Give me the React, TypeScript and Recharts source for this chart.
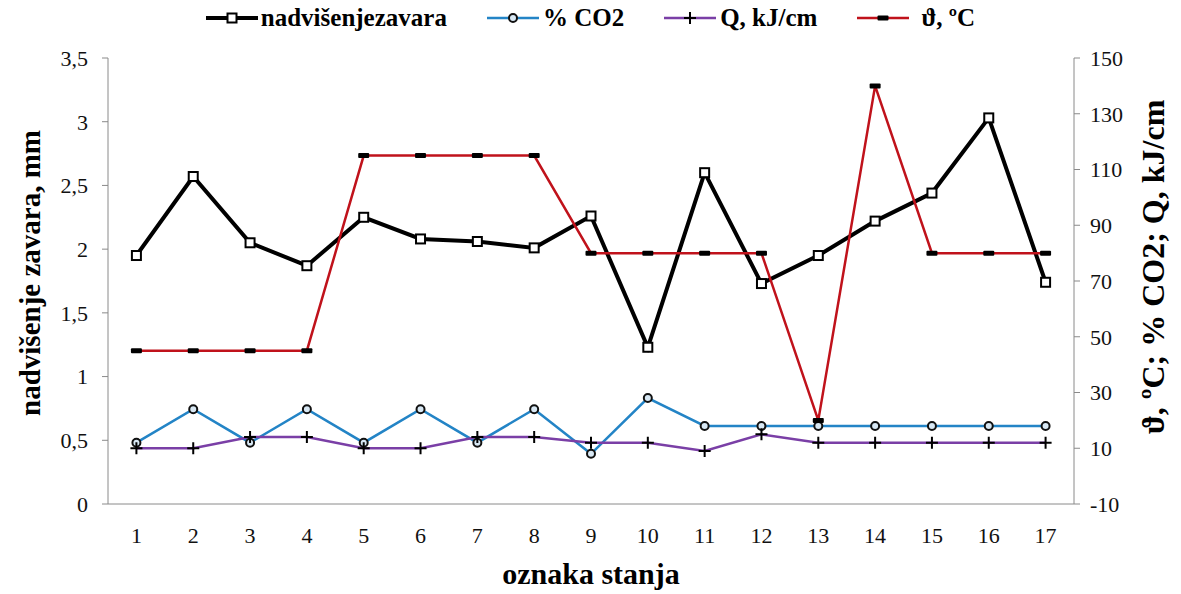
import { LineChart, Line, XAxis, YAxis, Legend, Label } from "recharts"

const stanja = [1, 2, 3, 4, 5, 6, 7, 8, 9, 10, 11, 12, 13, 14, 15, 16, 17]
const nadvisenje = [1.95, 2.57, 2.05, 1.87, 2.25, 2.08, 2.06, 2.01, 2.26, 1.23, 2.6, 1.73, 1.95, 2.22, 2.44, 3.03, 1.74]
const co2 = [12, 24, 12, 24, 12, 24, 12, 24, 8, 28, 18, 18, 18, 18, 18, 18, 18]
const toplina = [10, 10, 14, 14, 10, 10, 14, 14, 12, 12, 9, 15, 12, 12, 12, 12, 12]
const temperatura = [45, 45, 45, 45, 115, 115, 115, 115, 80, 80, 80, 80, 20, 140, 80, 80, 80]
const leftTicks = [0, 0.5, 1, 1.5, 2, 2.5, 3, 3.5]
const rightTicks = [-10, 10, 30, 50, 70, 90, 110, 130, 150]

const data = stanja.map((s, i) => ({
    stanje: s,
    nadvisenje: nadvisenje[i],
    co2: co2[i],
    q: toplina[i],
    temp: temperatura[i],
}))
// tick marks sit between categories, like in Excel
const granice = [...stanja.map((s) => s - 0.5), stanja[stanja.length - 1] + 0.5]

const serif = "Liberation Serif, Tinos, Times New Roman, DejaVu Serif, serif"
const gray = "#8a8a8a"
const tickStyle = { fontSize: 22, fill: "#111", fontFamily: serif }
const titleStyle = { fontWeight: 700, fill: "#000", fontFamily: serif }

const BLUE = "#2384c6"
const PURPLE = "#7a3fa6"
const RED = "#c0121b"

function Square({ cx, cy }: any) {
    return <rect x={cx - 4.5} y={cy - 4.5} width={9} height={9} fill="#fff" stroke="#000" strokeWidth={2} />
}
function Circle({ cx, cy }: any) {
    return <circle cx={cx} cy={cy} r={4} fill="#d8e8f4" stroke="#111" strokeWidth={2} />
}
function Cross({ cx, cy }: any) {
    return <path d={`M${cx - 6},${cy}H${cx + 6}M${cx},${cy - 6}V${cy + 6}`} stroke="#000" strokeWidth={2} />
}
function Dash({ cx, cy }: any) {
    return <rect x={cx - 5.5} y={cy - 2.5} width={11} height={5} rx={1} fill="#000" />
}

const legendItems = [
    { name: "nadvišenjezavara", color: "#000", width: 4, Marker: Square, pad: 3 },
    { name: "% CO2", color: BLUE, width: 2.5, Marker: Circle, pad: 4 },
    { name: "Q, kJ/cm", color: PURPLE, width: 2.5, Marker: Cross, pad: 4 },
    { name: "ϑ, ºC", color: RED, width: 2.5, Marker: Dash, pad: 12 },
]

function ChartLegend() {
    return (
        <div style={{ display: "flex", justifyContent: "center", gap: 40, width: 1181, fontFamily: serif, fontWeight: 700, fontSize: 25 }}>
            {legendItems.map(({ name, color, width, Marker, pad }) => (
                <div key={name} style={{ display: "flex", alignItems: "center" }}>
                    <svg width={52} height={20} style={{ marginRight: pad }}>
                        <line x1={0} y1={10} x2={52} y2={10} stroke={color} strokeWidth={width} />
                        <Marker cx={26} cy={10} />
                    </svg>
                    <span>{name}</span>
                </div>
            ))}
        </div>
    )
}

export default function App() {
    return (
        <div style={{ position: "absolute", left: 0, top: 0, background: "#fff", fontFamily: serif }}>
            <LineChart width={1181} height={594} data={data} margin={{ top: 58, right: 0, bottom: 0, left: 0 }}>
                <XAxis
                    xAxisId="edges"
                    type="number"
                    dataKey="stanje"
                    domain={[0.5, 17.5]}
                    ticks={granice}
                    tick={false}
                    tickLine={{ stroke: gray }}
                    tickSize={6}
                    axisLine={false}
                    height={0}
                />
                <XAxis
                    xAxisId="main"
                    type="number"
                    dataKey="stanje"
                    domain={[0.5, 17.5]}
                    ticks={stanja}
                    interval={0}
                    tick={tickStyle}
                    tickLine={false}
                    tickSize={6}
                    tickMargin={17}
                    axisLine={{ stroke: gray }}
                    height={90}
                >
                    <Label value="oznaka stanja" position="insideBottom" offset={10} style={{ ...titleStyle, fontSize: 30 }} />
                </XAxis>
                <YAxis
                    yAxisId="left"
                    width={108}
                    domain={[0, 3.5]}
                    ticks={leftTicks}
                    interval={0}
                    tickFormatter={(v) => String(v).replace(".", ",")}
                    tick={tickStyle}
                    tickLine={{ stroke: gray }}
                    tickSize={6}
                    tickMargin={14}
                    axisLine={{ stroke: gray }}
                >
                    <Label
                        content={() => (
                            <text x={40} y={273} transform="rotate(-90 40 273)" textAnchor="middle" style={{ ...titleStyle, fontSize: 29 }}>
                                nadvišenje zavara, mm
                            </text>
                        )}
                    />
                </YAxis>
                <YAxis
                    yAxisId="right"
                    orientation="right"
                    width={107}
                    domain={[-10, 150]}
                    ticks={rightTicks}
                    interval={0}
                    tick={{ ...tickStyle, textAnchor: "start" }}
                    tickLine={{ stroke: gray }}
                    tickSize={6}
                    tickMargin={10}
                    axisLine={{ stroke: gray }}
                >
                    <Label
                        content={() => (
                            <text x={1164} y={267} transform="rotate(-90 1164 267)" textAnchor="middle" style={{ ...titleStyle, fontSize: 32 }}>
                                ϑ, ºC; % CO2; Q, kJ/cm
                            </text>
                        )}
                    />
                </YAxis>
                <Legend verticalAlign="middle" wrapperStyle={{ top: 4, left: 0 }} content={() => <ChartLegend />} />
                <Line
                    xAxisId="main"
                    yAxisId="left"
                    dataKey="nadvisenje"
                    stroke="#000"
                    strokeWidth={4}
                    dot={(p: any) => <Square key={p.index} cx={p.cx} cy={p.cy} />}
                    activeDot={false}
                    isAnimationActive={false}
                />
                <Line
                    xAxisId="main"
                    yAxisId="right"
                    dataKey="co2"
                    stroke={BLUE}
                    strokeWidth={2.5}
                    dot={(p: any) => <Circle key={p.index} cx={p.cx} cy={p.cy} />}
                    activeDot={false}
                    isAnimationActive={false}
                />
                <Line
                    xAxisId="main"
                    yAxisId="right"
                    dataKey="q"
                    stroke={PURPLE}
                    strokeWidth={2.5}
                    dot={(p: any) => <Cross key={p.index} cx={p.cx} cy={p.cy} />}
                    activeDot={false}
                    isAnimationActive={false}
                />
                <Line
                    xAxisId="main"
                    yAxisId="right"
                    dataKey="temp"
                    stroke={RED}
                    strokeWidth={2.5}
                    dot={(p: any) => <Dash key={p.index} cx={p.cx} cy={p.cy} />}
                    activeDot={false}
                    isAnimationActive={false}
                />
            </LineChart>
        </div>
    )
}
